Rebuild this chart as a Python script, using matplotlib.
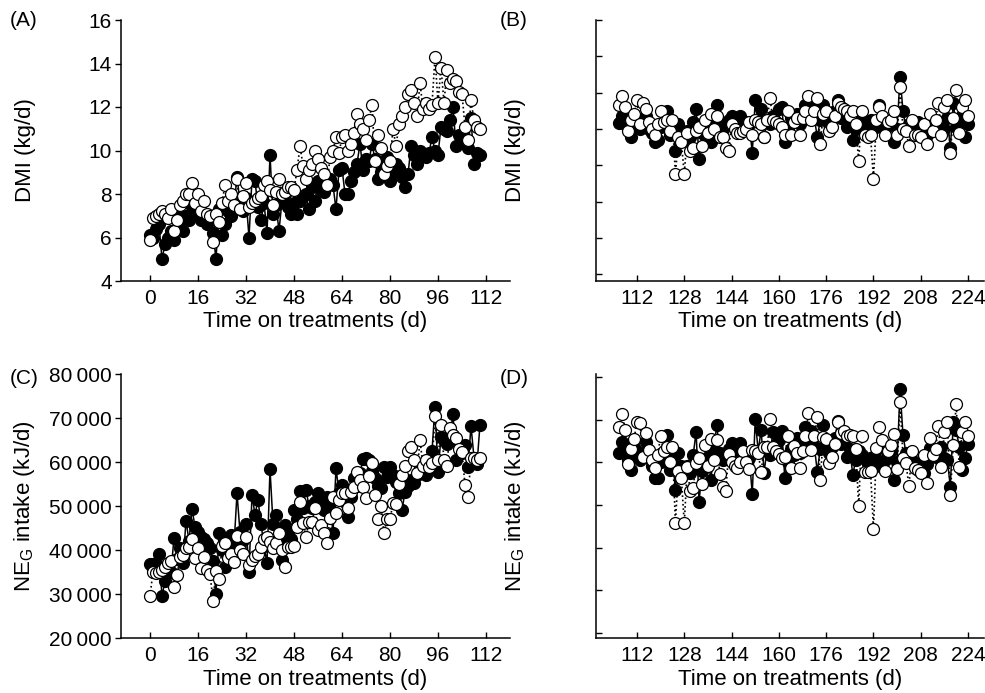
import numpy as np
import matplotlib
matplotlib.use("Agg")
import matplotlib.pyplot as plt

plt.rcParams["font.family"] = ["Liberation Sans", "DejaVu Sans"]

# days on treatment
days_first = list(range(0, 111))
days_second = list(range(106, 225))

# DMI (kg/d), first period
dmi_first_filled = [
    6.1, 6.0, 6.4, 6.6, 5.0, 5.7, 6.0, 6.3, 5.9, 7.2,
    6.8, 6.3, 7.0, 6.8, 7.4, 7.6, 7.0, 6.8, 7.1, 6.6,
    6.8, 6.2, 5.0, 7.3, 6.1, 6.6, 7.2, 7.0, 7.4, 8.8,
    7.6, 7.2, 7.8, 6.0, 8.7, 8.6, 7.4, 6.8, 7.6, 6.2,
    9.8, 7.1, 7.5, 6.3, 7.7, 8.0, 7.4, 7.1, 7.6, 7.1,
    7.7, 7.9, 8.0, 7.3, 8.3, 7.7, 8.6, 8.2, 8.1, 8.5,
    8.7, 8.4, 7.3, 9.1, 9.2, 8.0, 8.0, 8.6, 9.0, 9.4,
    10.3, 9.1, 9.6, 9.5, 10.3, 9.6, 8.7, 9.0, 9.4, 9.7,
    8.6, 9.0, 9.4, 9.2, 8.8, 8.3, 8.9, 10.2, 9.8, 9.4,
    10.0, 9.8, 9.7, 9.9, 10.6, 10.0, 9.8, 11.1, 11.0, 10.9,
    11.4, 12.0, 10.2, 10.7, 10.7, 10.4, 10.1, 11.5, 9.4, 9.9, 9.8,
]
dmi_first_open = [
    5.9, 6.9, 7.0, 7.1, 7.2, 7.1, 6.9, 7.3, 6.3, 6.8,
    7.5, 7.7, 8.0, 8.0, 8.5, 7.6, 8.0, 7.2, 7.7, 7.1,
    7.0, 5.8, 7.1, 6.7, 7.6, 8.4, 7.7, 8.0, 7.5, 8.7,
    7.3, 7.9, 8.5, 7.4, 7.6, 7.7, 7.8, 7.9, 8.4, 8.6,
    8.2, 7.5, 8.1, 8.7, 8.0, 8.1, 8.3, 8.3, 8.2, 9.1,
    10.2, 9.3, 8.7, 9.1, 9.4, 10.0, 9.6, 9.2, 8.9, 8.4,
    9.7, 10.0, 10.6, 9.9, 10.6, 10.7, 10.0, 10.3, 10.8, 11.7,
    11.2, 11.0, 10.5, 11.4, 12.1, 9.5, 10.7, 10.1, 8.9, 9.3,
    9.5, 11.0, 10.2, 11.2, 11.6, 12.0, 12.6, 12.8, 12.2, 11.6,
    13.1, 11.9, 12.2, 11.9, 12.1, 14.3, 12.2, 13.8, 12.2, 13.7,
    13.1, 13.3, 13.2, 12.7, 12.6, 11.1, 10.5, 12.3, 11.4, 11.1, 11.0,
]

# DMI (kg/d), second period
dmi_second_filled = [
    11.25, 11.6, 11.2, 11.0, 10.6, 11.3, 11.4, 11.0, 11.3, 11.6,
    11.0, 10.8, 10.4, 10.5, 11.1, 11.3, 11.8, 10.7, 11.2, 10.0,
    11.2, 10.8, 10.5, 10.9, 10.6, 11.3, 11.9, 9.6, 10.8, 11.0,
    10.6, 10.4, 11.5, 12.1, 11.3, 11.0, 11.2, 11.4, 11.6, 11.1,
    11.3, 11.6, 11.0, 11.3, 11.2, 9.9, 12.3, 11.4, 11.9, 10.6,
    11.4, 11.2, 11.6, 11.3, 11.9, 12.0, 10.4, 11.0, 11.5, 11.3,
    11.7, 11.2, 11.5, 12.1, 11.6, 12.2, 11.5, 10.6, 11.4, 12.1,
    11.6, 11.2, 11.5, 11.8, 12.3, 11.5, 11.7, 11.1, 11.4, 10.5,
    11.0, 11.4, 11.4, 11.3, 11.0, 11.4, 11.2, 11.1, 12.1, 11.5,
    11.0, 11.2, 11.4, 10.4, 11.0, 13.4, 11.8, 11.0, 11.2, 11.1,
    11.0, 11.3, 10.8, 11.0, 10.7, 11.1, 11.4, 11.2, 11.3, 11.0,
    11.0, 11.5, 10.1, 12.2, 11.1, 11.4, 11.6, 10.6, 11.2,
]
dmi_second_open = [
    12.1, 12.5, 12.0, 10.9, 11.4, 11.7, 12.3, 11.2, 12.2, 11.9,
    11.3, 11.0, 10.7, 11.2, 11.8, 11.3, 11.4, 10.9, 11.4, 8.9,
    10.6, 10.4, 8.9, 10.8, 10.0, 10.1, 10.9, 11.1, 10.2, 11.4,
    10.8, 11.7, 11.0, 11.6, 10.6, 10.6, 10.1, 10.0, 11.2, 11.0,
    10.8, 10.8, 10.9, 11.0, 11.3, 10.7, 11.4, 11.3, 11.2, 10.6,
    11.4, 12.4, 11.4, 11.3, 11.2, 11.1, 10.7, 11.8, 10.7, 11.3,
    11.5, 10.7, 11.5, 11.8, 12.5, 11.4, 11.8, 12.4, 10.3, 11.7,
    11.8, 10.9, 11.1, 11.6, 12.2, 12.0, 11.9, 11.8, 11.6, 11.8,
    11.2, 9.5, 11.8, 10.7, 10.6, 10.7, 8.7, 11.4, 12.0, 11.6,
    10.7, 11.3, 11.4, 11.8, 10.7, 12.9, 11.0, 10.9, 10.2, 11.4,
    10.7, 10.7, 10.6, 11.2, 10.3, 11.7, 10.9, 11.4, 12.2, 10.7,
    12.0, 12.3, 9.9, 11.5, 12.8, 10.8, 12.0, 12.3, 11.6,
]

# NEG intake (kJ/d), first period
neg_first_filled = [
    36800, 35500, 37000, 39000, 29500, 33000, 36500, 35000, 42800, 38000,
    40500, 37000, 46700, 42000, 49300, 45300, 44000, 43000, 42500, 41500,
    40400, 37400, 30000, 43800, 40000, 36200, 40500, 43400, 41000, 52900,
    44000, 42300, 45900, 35100, 52500, 48000, 51400, 45900, 41000, 37000,
    58400, 46000, 48000, 42000, 37700, 45600, 44000, 42600, 49100, 47000,
    53300, 49500, 53600, 50000, 49500, 51000, 52900, 51500, 49000, 52000,
    50600, 43800, 58600, 53000, 54800, 51000, 47600, 52000, 56300, 54500,
    57500, 60600, 60800, 60500, 58000, 56300, 54500, 54000, 58900, 56500,
    58900, 57000, 55500, 53000, 49100, 53200, 54500, 56000, 55300, 57000,
    58900, 57500, 57000, 59500, 62500, 72600, 57800, 65600, 65000, 64200,
    66000, 70900, 60500, 63900, 62000, 63900, 58900, 68200, 61000, 59500, 68500,
]
neg_first_open = [
    29500, 35100, 34700, 35000, 35500, 36200, 37000, 37400, 31700, 34300,
    38400, 38800, 40400, 40700, 42600, 38100, 40400, 35800, 38400, 35500,
    34500, 28500, 35300, 33300, 40800, 41500, 38100, 39200, 37300, 43100,
    40000, 39200, 43000, 36600, 37700, 38600, 39200, 40700, 42600, 43000,
    41800, 40500, 41700, 43900, 40000, 36200, 40700, 40700, 40800, 45300,
    51000, 46200, 43000, 46400, 46400, 49500, 44500, 45700, 43800, 41700,
    47200, 52100, 48500, 51300, 52900, 52900, 49500, 53200, 54400, 57800,
    55900, 54400, 51900, 56800, 59800, 52500, 47000, 49900, 43900, 47000,
    47000, 50600, 50400, 55100, 57000, 59000, 62500, 63300, 60500, 57400,
    65000, 59000, 60500, 58900, 59800, 70400, 60500, 68400, 60500, 59000,
    67700, 66100, 65400, 62900, 62300, 54700, 52100, 60800, 61000, 60500, 61000,
]

# NEG intake (kJ/d), second period
neg_second_filled = [
    62100, 64600, 62000, 60500, 58200, 63300, 62000, 60500, 62000, 64600,
    61000, 59000, 56300, 56300, 60000, 62000, 66100, 58200, 61000, 53600,
    62100, 59000, 57500, 59000, 57400, 61500, 66900, 51000, 58000, 59500,
    61200, 55800, 63000, 68400, 62000, 60500, 61500, 63000, 64300, 61500,
    62500, 64300, 60000, 62000, 61000, 52700, 69700, 62500, 67300, 57600,
    63000, 61500, 66900, 63000, 64900, 67100, 56300, 60000, 63000, 61500,
    65400, 62000, 64000, 68000, 64500, 67000, 63500, 57800, 63000, 68400,
    64000, 62000, 63500, 65500, 69400, 64000, 65000, 61200, 63000, 57100,
    60500, 62400, 61500, 60800, 59500, 61000, 61200, 60500, 63100, 58900,
    60500, 61500, 62500, 55800, 60000, 76500, 66100, 62000, 61000, 60500,
    59000, 59700, 58500, 57400, 59500, 63100, 61500, 62000, 61000, 63500,
    61000, 60500, 54400, 69200, 67300, 63500, 58200, 61000, 64000,
]
neg_second_open = [
    68000, 70900, 67300, 59500, 63000, 65200, 69200, 68900, 61100, 66700,
    62700, 60500, 58600, 61600, 65900, 62400, 63300, 60100, 63300, 46100,
    58000, 56300, 46100, 58900, 53300, 54200, 59700, 60800, 55000, 63900,
    59100, 65200, 60500, 65000, 57300, 54400, 53300, 61800, 60100, 59100,
    58600, 60100, 62400, 60000, 58300, 62700, 62400, 62000, 57800, 63300,
    63300, 69700, 63300, 62600, 61800, 61000, 61200, 65800, 58600, 63600,
    62000, 58600, 62500, 65900, 71100, 62700, 65900, 70200, 55800, 65600,
    65200, 59700, 61200, 64000, 69000, 66500, 67100, 66000, 66100, 65900,
    63000, 50000, 65900, 57800, 57800, 58000, 44700, 63100, 68000, 65000,
    58000, 62400, 63900, 66400, 58300, 73700, 61000, 59700, 54500, 62600,
    58600, 58200, 57400, 61600, 55200, 65400, 61600, 63000, 68200, 58800,
    66900, 69000, 52500, 63900, 73200, 58800, 66900, 69000, 66000,
]

x_ticks_first = [0, 16, 32, 48, 64, 80, 96, 112]
x_ticks_second = [112, 128, 144, 160, 176, 192, 208, 224]
dmi_ticks = [4, 6, 8, 10, 12, 14, 16]
neg_ticks = [20000, 30000, 40000, 50000, 60000, 70000, 80000]
neg_labels = ["20\u2009000", "30\u2009000", "40\u2009000", "50\u2009000",
              "60\u2009000", "70\u2009000", "80\u2009000"]

W, H = 985, 693
fig = plt.figure(figsize=(W / 100, H / 100), dpi=100)


def px_axes(left, top, right, bottom):
    return fig.add_axes([left / W, 1 - bottom / H, (right - left) / W, (bottom - top) / H])


def draw_series(ax, days, filled, opened):
    ax.plot(days, filled, color="black", lw=1.1, ls="-", marker="o", ms=8.6,
            mfc="black", mec="black", mew=0.9, zorder=2)
    ax.plot(days, opened, color="black", lw=1.2, ls=(0, (1, 1.6)), marker="o", ms=8.6,
            mfc="white", mec="black", mew=0.9, zorder=3)


def style(ax, ydir):
    for s in ["top", "right"]:
        ax.spines[s].set_visible(False)
    for s in ["left", "bottom"]:
        ax.spines[s].set_linewidth(1.1)
    ax.tick_params(axis="x", direction="in", length=4.5, width=1.0, labelsize=15, pad=6)
    ax.tick_params(axis="y", direction=ydir, length=4.5, width=1.0, labelsize=15, pad=2)


ax_a = px_axes(121, 20, 510, 281)
ax_b = px_axes(595.5, 20, 984, 281)
ax_c = px_axes(121, 374, 510, 638)
ax_d = px_axes(595.5, 374, 984, 638)

draw_series(ax_a, days_first, dmi_first_filled, dmi_first_open)
draw_series(ax_b, days_second, dmi_second_filled, dmi_second_open)
draw_series(ax_c, days_first, neg_first_filled, neg_first_open)
draw_series(ax_d, days_second, neg_second_filled, neg_second_open)

# first period panels
for ax in [ax_a, ax_c]:
    ax.set_xlim(-9.67, 120)
    ax.set_xticks(x_ticks_first)
    style(ax, "out")
ax_a.set_ylim(4, 16)
ax_a.set_yticks(dmi_ticks)
ax_c.set_ylim(20000, 80000)
ax_c.set_yticks(neg_ticks)
ax_c.set_yticklabels(neg_labels)

# second period panels (tick 112 at ~637 px, 224 at ~968 px)
for ax in [ax_b, ax_d]:
    ax.set_xlim(97.96, 229.4)
    ax.set_xticks(x_ticks_second)
    style(ax, "in")
ax_b.set_ylim(4, 16)
ax_b.set_yticks([4 + (281 - p) / 21.75 for p in [20, 56.3, 92.7, 129, 165.3, 201.6, 238, 274.3]])
ax_b.set_yticklabels([])
ax_d.set_ylim(20000, 80000)
ax_d.set_yticks([20000 + (638 - p) * 227.3 for p in [377.3, 420, 462.3, 505, 547.7, 590.3, 633]])
ax_d.set_yticklabels([])

# text
fs = 16
fig.text(10 / W, 1 - 21 / H, "(A)", fontsize=15, ha="left", va="center")
fig.text(500 / W, 1 - 21 / H, "(B)", fontsize=15, ha="left", va="center")
fig.text(10 / W, 1 - 378 / H, "(C)", fontsize=15, ha="left", va="center")
fig.text(500 / W, 1 - 378 / H, "(D)", fontsize=15, ha="left", va="center")

for xc, yc in [(315.5, 321), (790, 321), (315.5, 680), (790, 680)]:
    fig.text(xc / W, 1 - yc / H, "Time on treatments (d)", fontsize=fs, ha="center", va="center")

for xc in [25, 515]:
    fig.text(xc / W, 1 - 150 / H, "DMI (kg/d)", fontsize=fs, rotation=90, ha="center", va="center")
    fig.text(xc / W, 1 - 506 / H, "NE$_\\mathregular{G}$ intake (kJ/d)", fontsize=fs,
             rotation=90, ha="center", va="center")

fig.savefig("out.png", dpi=100)
